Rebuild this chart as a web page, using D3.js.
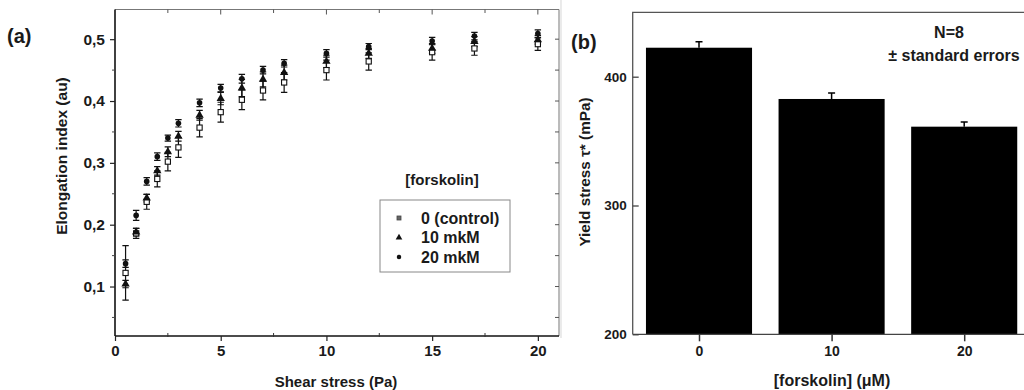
<!DOCTYPE html>
<html>
<head>
<meta charset="utf-8">
<script src="https://cdn.jsdelivr.net/npm/d3@7/dist/d3.min.js"></script>
<style>
  html, body { margin: 0; padding: 0; background: #fff; }
  svg { display: block; font-family: "Liberation Sans", Arial, sans-serif; }
  text { font-weight: bold; fill: #1a1a1a; }
</style>
</head>
<body>
<svg id="chart" width="1024" height="390"></svg>
<script>
// ---------- Panel (a) data ----------
const shearStress = [0.5, 1, 1.5, 2, 2.5, 3, 4, 5, 6, 7, 8, 10, 12, 15, 17, 20];
const eiControl = [0.122, 0.186, 0.237, 0.274, 0.302, 0.325, 0.357, 0.382, 0.402, 0.417, 0.430, 0.450, 0.464, 0.479, 0.485, 0.492];
const seControl = [0.044, 0.008, 0.012, 0.013, 0.015, 0.016, 0.015, 0.016, 0.016, 0.015, 0.016, 0.016, 0.014, 0.013, 0.011, 0.010];
const ei10 = [0.104, 0.188, 0.243, 0.287, 0.318, 0.343, 0.377, 0.404, 0.421, 0.435, 0.446, 0.464, 0.477, 0.485, 0.496, 0.499];
const se10 = [0.006, 0.006, 0.006, 0.007, 0.008, 0.008, 0.008, 0.010, 0.014, 0.012, 0.012, 0.010, 0.008, 0.008, 0.008, 0.007];
const ei20 = [0.137, 0.215, 0.270, 0.310, 0.340, 0.364, 0.397, 0.421, 0.436, 0.450, 0.461, 0.477, 0.488, 0.497, 0.505, 0.509];
const se20 = [0.006, 0.008, 0.006, 0.006, 0.005, 0.006, 0.006, 0.006, 0.007, 0.006, 0.006, 0.006, 0.005, 0.006, 0.006, 0.006];
const seriesNames = ["0 (control)", "10 mkM", "20 mkM"];
const xTicksA = [0, 5, 10, 15, 20];
const yTicksA = [0.1, 0.2, 0.3, 0.4, 0.5];

// ---------- Panel (b) data ----------
const concentrations = [0, 10, 20];
const yieldStress = [422.5, 382.7, 361.2];
const yieldSE = [4.7, 4.6, 3.7];
const yTicksB = [200, 300, 400];

const svg = d3.select("#chart");
const fmtComma = d => d3.format(".1f")(d).replace(".", ",");
const FF = "Liberation Sans, Arial, sans-serif";

// ================= Panel (a) =================
const A = { left: 115, right: 559, top: 9.5, bottom: 336 };
const xA = d3.scaleLinear().domain([0, 21]).range([A.left, A.right]);
const yA = d3.scaleLinear().domain([0.02, 0.548]).range([A.bottom, A.top]);

const gA = svg.append("g");

// frame: top and right (grey, inward ticks)
gA.append("line").attr("x1", A.left).attr("x2", A.right).attr("y1", A.top).attr("y2", A.top)
  .attr("stroke", "#777").attr("stroke-width", 1);
gA.append("line").attr("x1", A.right).attr("x2", A.right).attr("y1", A.top).attr("y2", A.bottom)
  .attr("stroke", "#777").attr("stroke-width", 1);

const xMinorA = d3.range(2.5, 21, 2.5);
const yMinorA = d3.range(0.05, 0.55, 0.05);

// top ticks inward
gA.selectAll(".ttick").data(xMinorA).join("line")
  .attr("x1", d => xA(d)).attr("x2", d => xA(d))
  .attr("y1", A.top).attr("y2", d => A.top + (Math.abs(d % 5) < 1e-6 ? 5 : 3.5))
  .attr("stroke", "#555").attr("stroke-width", 1);
// right ticks inward
gA.selectAll(".rtick").data(yMinorA).join("line")
  .attr("x1", A.right).attr("x2", A.right - 4)
  .attr("y1", d => yA(d)).attr("y2", d => yA(d))
  .attr("stroke", "#555").attr("stroke-width", 1);

// bottom axis
const xAxisA = d3.axisBottom(xA).tickValues(xTicksA).tickSize(5).tickPadding(4).tickFormat(d3.format("d"));
const gxA = gA.append("g").attr("transform", `translate(0,${A.bottom})`).call(xAxisA);
gxA.select(".domain").attr("stroke", "#111").attr("stroke-width", 1.6);
gxA.selectAll(".tick line").attr("stroke", "#222").attr("stroke-width", 1.2);
gxA.selectAll("text").attr("font-size", 15).attr("font-family", FF).attr("font-weight", "bold").attr("fill", "#1a1a1a");
gxA.select(".domain").attr("d", `M${A.left},0H${A.right}`);
gA.append("g").attr("transform", `translate(0,${A.bottom})`)
  .selectAll("line").data(xMinorA.filter(d => Math.abs(d % 5) > 1e-6)).join("line")
  .attr("x1", d => xA(d)).attr("x2", d => xA(d)).attr("y1", -3).attr("y2", 1)
  .attr("stroke", "#333").attr("stroke-width", 1);

// left axis
const yAxisA = d3.axisLeft(yA).tickValues(yTicksA).tickSize(5).tickPadding(5).tickFormat(fmtComma);
const gyA = gA.append("g").attr("transform", `translate(${A.left},0)`).call(yAxisA);
gyA.select(".domain").attr("d", `M0,${A.top}V${A.bottom}`).attr("stroke", "#111").attr("stroke-width", 1.6);
gyA.selectAll(".tick line").attr("stroke", "#222").attr("stroke-width", 1.2);
gyA.selectAll("text").attr("font-size", 15.5).attr("font-family", FF).attr("font-weight", "bold").attr("fill", "#1a1a1a");
gA.append("g").attr("transform", `translate(${A.left},0)`)
  .selectAll("line").data(yMinorA.filter((d, i) => i % 2 === 0)).join("line")
  .attr("x1", -3).attr("x2", 0).attr("y1", d => yA(d)).attr("y2", d => yA(d))
  .attr("stroke", "#444").attr("stroke-width", 1);

// axis titles
gA.append("text").attr("transform", `translate(67,156) rotate(-90)`)
  .attr("text-anchor", "middle").attr("font-size", 15.5).text("Elongation index (au)");
gA.append("text").attr("x", 336).attr("y", 387)
  .attr("text-anchor", "middle").attr("font-size", 15).text("Shear stress (Pa)");
gA.append("text").attr("x", 7).attr("y", 43).attr("font-size", 20).text("(a)");

// data series
const series = [
  { name: seriesNames[0], vals: eiControl, se: seControl, shape: "square" },
  { name: seriesNames[1], vals: ei10, se: se10, shape: "triangle" },
  { name: seriesNames[2], vals: ei20, se: se20, shape: "circle" }
];
const cap = 3.2;
const gErr = gA.append("g").attr("stroke", "#111").attr("stroke-width", 1.2);
series.forEach(s => {
  const pts = shearStress.map((x, i) => ({ x, y: s.vals[i], e: s.se[i] }));
  gErr.append("g").selectAll("path").data(pts).join("path")
    .attr("fill", "none")
    .attr("d", d => {
      const px = xA(d.x), y1 = yA(d.y + d.e), y2 = yA(d.y - d.e);
      return `M${px},${y1}V${y2}M${px - cap},${y1}H${px + cap}M${px - cap},${y2}H${px + cap}`;
    });
});

function drawMarker(g, shape, px, py, scale) {
  scale = scale || 1;
  if (shape === "square") {
    g.append("rect").attr("x", px - 2.6 * scale).attr("y", py - 2.6 * scale)
      .attr("width", 5.2 * scale).attr("height", 5.2 * scale)
      .attr("fill", "#fff").attr("stroke", "#111").attr("stroke-width", 1.1);
  } else if (shape === "triangle") {
    g.append("path").attr("transform", `translate(${px},${py})`)
      .attr("d", d3.symbol(d3.symbolTriangle, 30 * scale * scale)()).attr("fill", "#111");
  } else {
    g.append("circle").attr("cx", px).attr("cy", py).attr("r", 2.8 * scale).attr("fill", "#111");
  }
}
const gMk = gA.append("g");
series.forEach(s => {
  shearStress.forEach((x, i) => drawMarker(gMk, s.shape, xA(x), yA(s.vals[i])));
});

// legend
gA.append("text").attr("x", 442).attr("y", 185).attr("text-anchor", "middle")
  .attr("font-size", 15).text("[forskolin]");
gA.append("rect").attr("x", 380).attr("y", 200).attr("width", 130).attr("height", 72)
  .attr("fill", "none").attr("stroke", "#888").attr("stroke-width", 1);
series.forEach((s, i) => {
  const ly = 218 + i * 19.5;
  if (s.shape === "square") {
    gA.append("rect").attr("x", 397).attr("y", ly - 2).attr("width", 4).attr("height", 4)
      .attr("fill", "#666").attr("stroke", "#444").attr("stroke-width", 0.8);
  } else {
    drawMarker(gA, s.shape, 399, ly, 0.8);
  }
  gA.append("text").attr("x", 421).attr("y", ly + 5.5).attr("font-size", 16).text(s.name);
});

// ================= Panel (b) =================
const B = { left: 632.7, right: 1030.5, top: 12.3, bottom: 334.3 };
const xB = d3.scaleLinear().domain([-5, 25]).range([B.left, B.right]);
const yB = d3.scaleLinear().domain([200, 450]).range([B.bottom, B.top]);
const gB = svg.append("g");

// faint separator at left of panel b
gB.append("line").attr("x1", 561).attr("x2", 561).attr("y1", 0).attr("y2", 338)
  .attr("stroke", "#ddd").attr("stroke-width", 1.2);

// frame
gB.append("path")
  .attr("d", `M${B.left},${B.bottom}V${B.top}H${B.right}V${B.bottom}`)
  .attr("fill", "none").attr("stroke", "#555").attr("stroke-width", 1.3);

// bars
const barW = 8;
gB.selectAll(".bar").data(concentrations).join("rect")
  .attr("x", (d) => xB(d - barW / 2))
  .attr("width", xB(barW) - xB(0))
  .attr("y", (d, i) => yB(yieldStress[i]))
  .attr("height", (d, i) => yB(200) - yB(yieldStress[i]))
  .attr("fill", "#000");
// error bars (upper only)
gB.selectAll(".err").data(concentrations).join("path")
  .attr("fill", "none").attr("stroke", "#000").attr("stroke-width", 1.5)
  .attr("d", (d, i) => {
    const px = xB(d), y1 = yB(yieldStress[i] + yieldSE[i]), y0 = yB(yieldStress[i]);
    return `M${px},${y0}V${y1}M${px - 3.5},${y1}H${px + 3.5}`;
  });

// bottom axis
const xAxisB = d3.axisBottom(xB).tickValues(concentrations).tickSize(7).tickPadding(5).tickFormat(d3.format("d"));
const gxB = gB.append("g").attr("transform", `translate(0,${B.bottom})`).call(xAxisB);
gxB.select(".domain").attr("d", `M${B.left},0H${B.right}`).attr("stroke", "#444").attr("stroke-width", 1.3);
gxB.selectAll(".tick line").attr("stroke", "#333").attr("stroke-width", 1.5);
gxB.selectAll("text").attr("font-size", 14).attr("font-family", FF).attr("font-weight", "bold").attr("fill", "#1a1a1a");

// left axis (inward ticks)
const yAxisB = d3.axisLeft(yB).tickValues(yTicksB).tickSizeInner(-6).tickSizeOuter(0).tickPadding(6).tickFormat(d3.format("d"));
const gyB = gB.append("g").attr("transform", `translate(${B.left},0)`).call(yAxisB);
gyB.select(".domain").remove();
gyB.selectAll(".tick line").attr("stroke", "#444").attr("stroke-width", 1.3);
gyB.selectAll("text").attr("font-size", 13.5).attr("font-family", FF).attr("font-weight", "bold").attr("fill", "#1a1a1a");
// right axis ticks (inward)
gB.selectAll(".rtickB").data(yTicksB).join("line")
  .attr("x1", B.right).attr("x2", B.right - 6)
  .attr("y1", d => yB(d)).attr("y2", d => yB(d))
  .attr("stroke", "#444").attr("stroke-width", 1.3);

// titles
gB.append("text").attr("transform", `translate(590,172) rotate(-90)`)
  .attr("text-anchor", "middle").attr("font-size", 15.3).text("Yield stress τ* (mPa)");
gB.append("text").attr("x", 832).attr("y", 386)
  .attr("text-anchor", "middle").attr("font-size", 16).text("[forskolin] (μM)");
gB.append("text").attr("x", 571).attr("y", 49).attr("font-size", 20).text("(b)");
gB.append("text").attr("x", 949).attr("y", 38).attr("text-anchor", "middle")
  .attr("font-size", 16).text("N=8");
gB.append("text").attr("x", 954).attr("y", 61).attr("text-anchor", "middle")
  .attr("font-size", 16).text("± standard errors");
</script>
</body>
</html>
